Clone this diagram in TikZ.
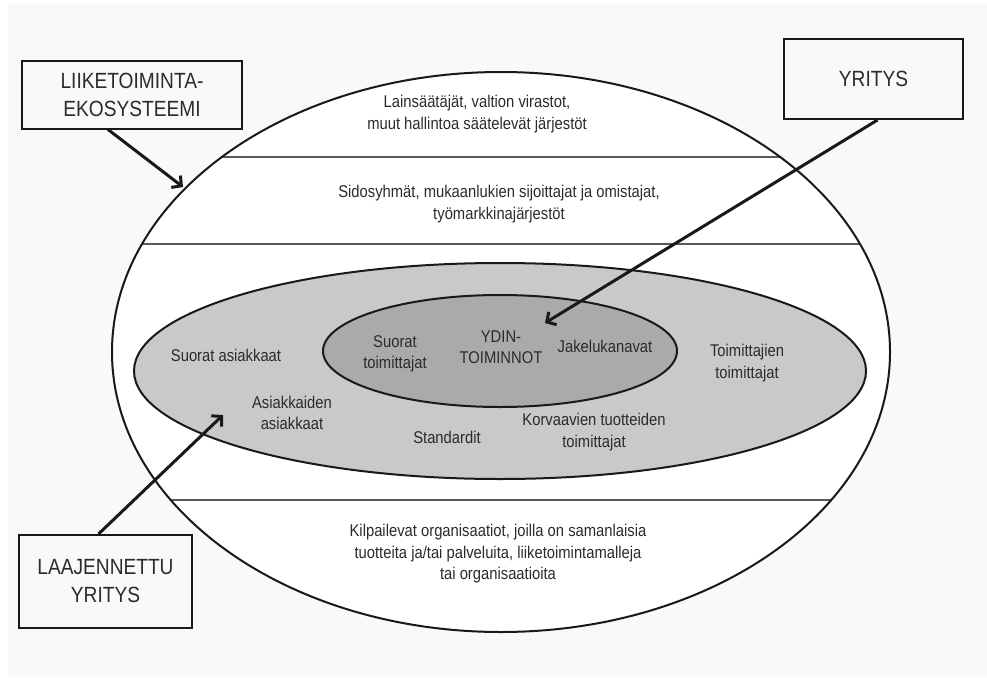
\documentclass[tikz,border=0pt]{standalone}
\usepackage{fontspec}
\setmainfont[FakeStretch=0.87]{Liberation Sans}
\usetikzlibrary{arrows.meta}
\tikzset{>={Straight Barb[length=7pt,width=15pt]}}
\definecolor{paper}{HTML}{F9F9F9}
\definecolor{ringgray}{HTML}{C9C9C9}
\definecolor{coregray}{HTML}{AAAAAA}
\definecolor{inktext}{HTML}{2B2B2B}
\tikzset{
  txt/.style={align=center, text=inktext, inner sep=0pt,
    font=\fontsize{17}{21.5}\selectfont},
  namebox/.style={draw=black!90, line width=2pt, align=center, text=inktext,
    font=\fontsize{22}{28}\selectfont},
  pointer/.style={->, line width=3pt, black!90}
}

\begin{document}
\begin{tikzpicture}[x=1pt, y=-1pt]
    \useasboundingbox (0,0) rectangle (987,677);
    \fill[paper] (8,4) rectangle (987,677);
    % the ecosystem and its layers
    \coordinate (O) at (501,352);
    \fill[white] (O) ellipse [x radius=389, y radius=280];
    \begin{scope}
    \clip (O) ellipse [x radius=389, y radius=280];
    \foreach \y in {157,244,500}
    \draw[line width=1.5pt, black!65] (100,\y) -- (900,\y);
    \end{scope}
    \draw[line width=2pt, black!90] (O) ellipse [x radius=389, y radius=280];
    % extended enterprise and the core
    \draw[line width=2pt, black!90, fill=ringgray] (500,371) ellipse [x radius=366, y radius=108];
    \draw[line width=2pt, black!90, fill=coregray] (500,351) ellipse [x radius=177, y radius=56];
    % texts
    \node[txt] (law) at (477,114) {Lainsäätäjät, valtion virastot,\\muut hallintoa säätelevät järjestöt};
    \node[txt] (stake) at (499,204) {Sidosyhmät, mukaanlukien sijoittajat ja omistajat,\\työmarkkinajärjestöt};
    \node[txt] (custs) at (226,355) {Suorat asiakkaat};
    \node[txt] (custcusts) at (292,413) {Asiakkaiden\\asiakkaat};
    \node[txt] (std) at (447,437) {Standardit};
    \node[txt] (supps) at (395,354) {Suorat\\toimittajat};
    \node[txt] (core) at (501,347) {YDIN-\\TOIMINNOT};
    \node[txt] (chan) at (605,346) {Jakelukanavat};
    \node[txt] (suppsupps) at (747,363) {Toimittajien\\toimittajat};
    \node[txt] (subst) at (594,432) {Korvaavien tuotteiden\\toimittajat};
    \node[txt] (rivals) at (498,554) {Kilpailevat organisaatiot, joilla on samanlaisia\\tuotteita ja/tai palveluita, liiketoimintamalleja\\tai organisaatioita};
    % boxes and pointers
    \node[namebox, minimum width=220pt, minimum height=67pt] (eco) at (132,95) {LIIKETOIMINTA-\\EKOSYSTEEMI};
    \node[namebox, minimum width=179pt, minimum height=80pt] (firm) at (873.5,79) {YRITYS};
    \node[namebox, minimum width=173pt, minimum height=93pt] (ext) at (105.5,581.5) {LAAJENNETTU\\YRITYS};
    \coordinate (ecoEnd) at (183,187);
    \coordinate (firmEnd) at (545,323);
    \coordinate (extEnd) at (223,415);
    \draw[pointer] ([xshift=-24pt]eco.south) -- (ecoEnd);
    \draw[pointer] ([xshift=4pt]firm.south) -- (firmEnd);
    \draw[pointer] ([xshift=-7pt]ext.north) -- (extEnd);
\end{tikzpicture}
\end{document}
